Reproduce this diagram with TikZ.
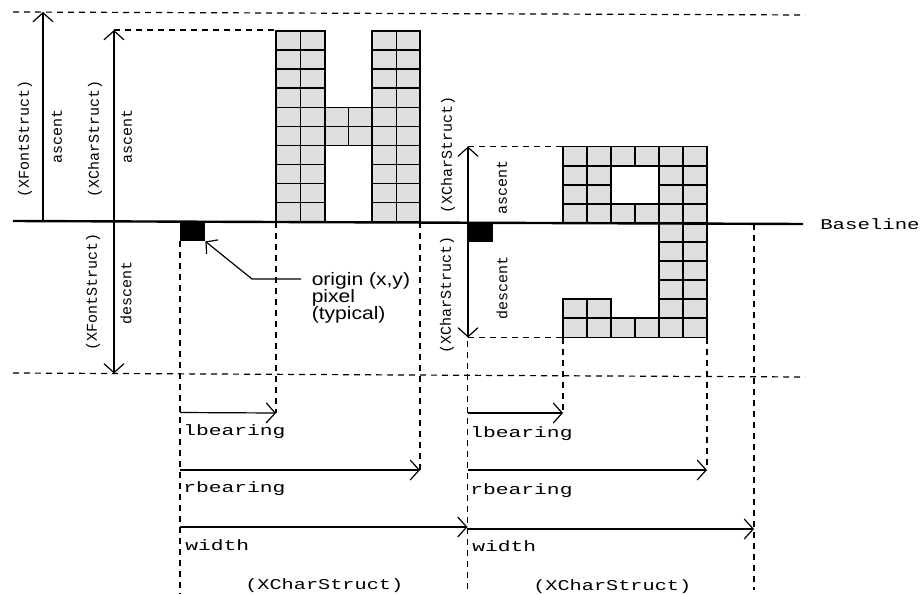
\documentclass[tikz,border=0pt]{standalone}
\usepackage{fontspec}
\setmainfont{Liberation Sans}
\newfontfamily\codefont{Liberation Mono}
\usetikzlibrary{arrows.meta,positioning}
\begin{document}
\begin{tikzpicture}[
    x=1pt, y=-1pt,
    cell/.style={draw=black, line width=1.5pt, fill=black!13},
    guide/.style={draw=black, line width=1.2pt, dash pattern=on 6pt off 5pt},
    axisline/.style={draw=black, line width=2.4pt},
    dim/.style={draw=black, line width=1.2pt, -{Straight Barb[length=9pt,width=20pt]}},
    dimboth/.style={draw=black, line width=1.2pt, {Straight Barb[length=9pt,width=20pt]}-{Straight Barb[length=9pt,width=20pt]}},
    vlabel/.style={font=\codefont\fontsize{15}{15}\selectfont, rotate=90, inner sep=0pt},
    hlabel/.style={font=\codefont\fontsize{15}{15}\selectfont, transform shape, xscale=1.42, inner sep=0pt, anchor=base west},
    structlabel/.style={hlabel, xscale=1.35/1.42},
    pixel/.style={fill=black, minimum width=25pt, minimum height=19pt, inner sep=0pt, anchor=north west},
    notelabel/.style={font=\fontsize{18}{18}\selectfont, transform shape, xscale=1.17, inner xsep=9pt, inner ysep=0pt, text height=14pt, text depth=1pt}
  ]
  \useasboundingbox (0,0) rectangle (920,594);
  % letter H
  \foreach \xa/\xb in {276/300.5,300.5/325,372/396.5,396.5/420}
    \foreach \r in {0,...,9}
      \draw[cell] (\xa,31+19.07*\r) rectangle (\xb,31+19.07*\r+19.07);
  \foreach \xa/\xb in {325/348.5,348.5/372}
    \foreach \r in {4,5}
      \draw[cell] (\xa,31+19.07*\r) rectangle (\xb,31+19.07*\r+19.07);
  % letter g
  \foreach \c/\r in {0/0,1/0,2/0,3/0,4/0,5/0,0/1,1/1,4/1,5/1,0/2,1/2,4/2,5/2,0/3,1/3,2/3,3/3,4/3,5/3,
      4/4,5/4,4/5,5/5,4/6,5/6,4/7,5/7,0/8,1/8,4/8,5/8,0/9,1/9,2/9,3/9,4/9,5/9}
    \draw[cell] (563+24*\c,146.7+19.06*\r) rectangle (563+24*\c+24,146.7+19.06*\r+19.06);

  \node[pixel] (originA) at (180,222) {};
  \node[pixel] (originB) at (467.5,223) {};

  % horizontal guides and baseline
  \coordinate (topL) at (13,12);      \coordinate (topR) at (805,15);
  \coordinate (botL) at (13,373);     \coordinate (botR) at (805,377);
  \coordinate (baseL) at (13,221);    \coordinate (baseR) at (803,224);
  \draw[guide] (topL) -- (topR);
  \draw[guide] (botL) -- (botR);
  \draw[axisline] (baseL) -- (baseR);
  \node[hlabel, xscale=1.38/1.42] (baselbl) at (820,229) {Baseline};

  % ascent / descent of the font
  \coordinate (fontUp) at (43,12);    \coordinate (fontBase) at (43,221);
  \coordinate (hUp) at (114,30);      \coordinate (hDown) at (114,373.5);
  \coordinate (hTop) at (276,30);
  \draw[dim] (fontBase) -- (fontUp);
  \draw[dimboth] (hDown) -- (hUp);
  \draw[guide] (hUp) -- (hTop);
  \node[vlabel] (fontasc) at (25,139) {(XFontStruct)};
  \node[vlabel] (fontascb) at (57,136) {ascent};
  \node[vlabel] (charasc) at (95,139) {(XCharStruct)};
  \node[vlabel] (charascb) at (127,136) {ascent};
  \node[vlabel] (fontdesc) at (93,292) {(XFontStruct)};
  \node[vlabel] (fontdescb) at (126,293) {descent};

  % ascent / descent of g
  \coordinate (gUp) at (468,146.5);   \coordinate (gDown) at (468,337.5);
  \coordinate (gTop) at (563,146.5);  \coordinate (gBot) at (563,337.5);
  \draw[dimboth] (gDown) -- (gUp);
  \draw[guide] (gUp) -- (gTop);
  \draw[guide] (gDown) -- (gBot);
  \node[vlabel] (gasc) at (448,155) {(XCharStruct)};
  \node[vlabel] (gascb) at (502,187) {ascent};
  \node[vlabel] (gdesc) at (447,295) {(XCharStruct)};
  \node[vlabel] (gdescb) at (502,288) {descent};

  % origin note
  \node[notelabel, anchor=west] (originlbl) at (301,279) {origin (x,y)};
  \node[notelabel, below=1.5pt of originlbl.south west, anchor=north west] (pixellbl) {pixel};
  \node[notelabel, below=1.5pt of pixellbl.south west, anchor=north west] (typicallbl) {(typical)};
  \coordinate (leaderbend) at (252,279);
  \draw[dim, -{Straight Barb[length=8pt,width=18pt]}] (originlbl.west) -- (leaderbend) -- (originA.south east);

  % vertical drops for H
  \coordinate (h0) at (180,594);
  \coordinate (h1a) at (276,222);    \coordinate (h1) at (276,413);
  \coordinate (h2a) at (420,222);    \coordinate (h2) at (420,470);
  \coordinate (h3a) at (467.5,242);  \coordinate (h3) at (467.5,590);
  \draw[guide] (originA.south west) -- (h0);
  \draw[guide] (h1a) -- (h1);
  \draw[guide] (h2a) -- (h2);
  \draw[guide] (h3a) -- (h3);

  % vertical drops for g
  \coordinate (g1a) at (563,338);    \coordinate (g1) at (563,413);
  \coordinate (g2a) at (707,338);    \coordinate (g2) at (707,470);
  \coordinate (g3a) at (754,224);    \coordinate (g3) at (754,590);
  \draw[guide] (g1a) -- (g1);
  \draw[guide] (g2a) -- (g2);
  \draw[guide] (g3a) -- (g3);

  % bearings and widths
  \coordinate (hL1) at (180,412.5);  \coordinate (hL2) at (180,470);  \coordinate (hL3) at (180,527);
  \coordinate (hE3) at (467.5,527);
  \coordinate (gL1) at (467.5,413);  \coordinate (gL2) at (467.5,470); \coordinate (gL3) at (467.5,529);
  \coordinate (gE3) at (754,529);
  \draw[dim] (hL1) -- (h1);
  \draw[dim] (hL2) -- (h2);
  \draw[dim] (hL3) -- (hE3);
  \draw[dim] (gL1) -- (g1);
  \draw[dim] (gL2) -- (g2);
  \draw[dim] (gL3) -- (gE3);

  \node[hlabel] (lbearA) at (183,435) {lbearing};
  \node[hlabel] (rbearA) at (183,492) {rbearing};
  \node[hlabel] (widthA) at (185,550) {width};
  \node[structlabel] (charA) at (245,589) {(XCharStruct)};
  \node[hlabel] (lbearB) at (470,437) {lbearing};
  \node[hlabel] (rbearB) at (470,494) {rbearing};
  \node[hlabel] (widthB) at (472,551) {width};
  \node[structlabel] (charB) at (533,590) {(XCharStruct)};
\end{tikzpicture}
\end{document}
